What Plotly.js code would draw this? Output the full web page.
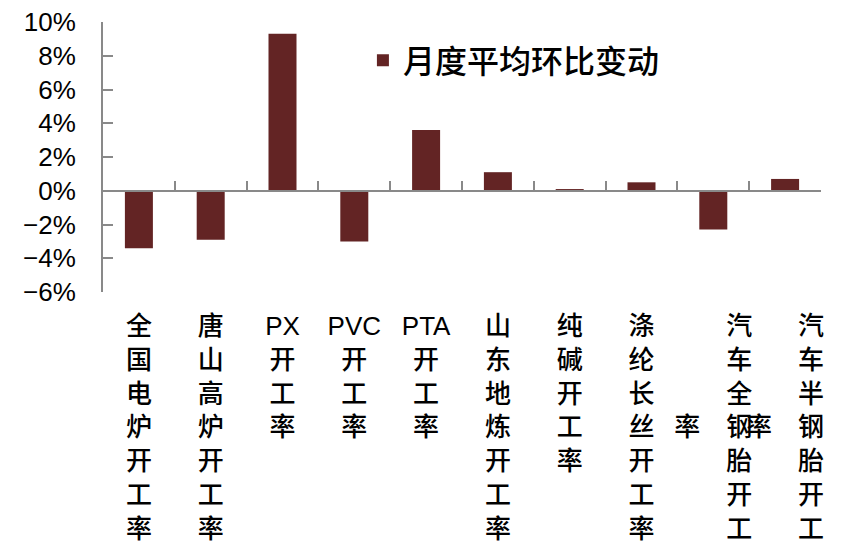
<!DOCTYPE html>
<html>
<head>
<meta charset="utf-8">
<script src="https://cdn.plot.ly/plotly-3.0.1.min.js"></script>
<style>
  html, body { margin: 0; padding: 0; background: #fff; }
  #chart { width: 868px; height: 560px; }
</style>
</head>
<body>
<div id="chart"></div>
<script>
// 各行业开工率 月度平均环比变动 (%)
const categories = ['全国电炉开工率', '唐山高炉开工率', 'PX开工率', 'PVC开工率', 'PTA开工率',
                    '山东地炼开工率', '纯碱开工率', '涤纶长丝开工率', '汽车全钢胎开工率', '汽车半钢胎开工率'];
const changes = [-3.4, -2.9, 9.3, -3.0, 3.6, 1.1, 0.1, 0.5, -2.3, 0.7];
const seriesName = '月度平均环比变动';
const yTicks = [-6, -4, -2, 0, 2, 4, 6, 8, 10];

const gray = '#898989';
const fontLatin = 'Arial, "Liberation Sans", "Noto Sans CJK SC", sans-serif';
const fontCjk = '"Noto Sans CJK SC", "Liberation Sans", sans-serif';

// 竖排标签：每个汉字一行，英文字母连在一起；超过7行的部分挪到左边一列
const MAX_ROWS = 7;
function verticalLabel(name) {
    const parts = name.match(/[A-Za-z]+|./g);
    if (parts.length <= MAX_ROWS) return parts.join('<br>');
    const main = parts.slice(0, MAX_ROWS);
    const extra = parts.slice(MAX_ROWS).join('');
    const mid = Math.floor(MAX_ROWS / 2);
    return main.map((ch, i) => (i === mid ? extra : '\u3000') + '\u3000' + ch).join('<br>');
}

const labels = categories.map(verticalLabel);
const yLabels = yTicks.map(v => (v < 0 ? '\u2212' : '') + Math.abs(v) + '%');

const data = [{
    type: 'bar',
    x: categories,
    y: changes,
    name: seriesName,
    marker: { color: '#632424' },
    hoverinfo: 'x+y',
    showlegend: true
}];

const layout = {
    width: 868,
    height: 560,
    margin: { l: 103, r: 47, t: 22, b: 268, pad: 0 },
    paper_bgcolor: '#ffffff',
    plot_bgcolor: '#ffffff',
    bargap: 0.61,
    showlegend: true,
    legend: {
        x: 0.362,
        y: 0.858,
        xanchor: 'left',
        yanchor: 'middle',
        font: { family: fontCjk, size: 32, color: '#000', weight: 500 },
        bgcolor: 'rgba(0,0,0,0)'
    },
    xaxis: {
        type: 'category',
        range: [-0.5, 9.5],
        anchor: 'free',
        position: 0.375,
        showline: true,
        linecolor: gray,
        linewidth: 2,
        ticks: 'inside',
        tickson: 'boundaries',
        ticklen: 9,
        tickwidth: 2,
        tickcolor: gray,
        tickangle: 0,
        tickvals: categories,
        ticktext: labels,
        tickfont: { family: fontLatin, size: 26, color: '#000', weight: 500 },
        ticklabelstandoff: 112,
        showgrid: false,
        zeroline: false,
        automargin: false
    },
    yaxis: {
        range: [-6, 10],
        tickvals: yTicks,
        ticktext: yLabels,
        showline: true,
        linecolor: gray,
        linewidth: 2,
        ticks: 'inside',
        ticklen: 10,
        tickwidth: 2,
        tickcolor: gray,
        tickfont: { family: fontLatin, size: 26, color: '#000' },
        ticklabelstandoff: 20,
        showgrid: false,
        zeroline: false,
        automargin: false
    }
};

Plotly.newPlot('chart', data, layout, { displayModeBar: false, staticPlot: true });
</script>
</body>
</html>
